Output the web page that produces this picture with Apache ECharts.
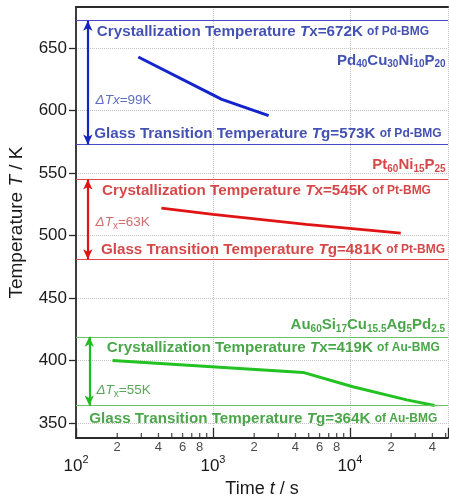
<!DOCTYPE html>
<html><head><meta charset="utf-8">
<script src="https://cdn.jsdelivr.net/npm/echarts@6/dist/echarts.min.js"></script>
<style>html,body{margin:0;padding:0;background:#fff}#c{width:449px;height:502px}</style>
</head><body><div id="c"></div>
<script>
// ---- data ----
const xRange = [100, 52000];
const yRange = [338, 683];
const yTickStep = 50;
const majorTickValues = [100, 1000, 10000];
const minorTickValues = [200,300,400,500,600,700,800,900,2000,3000,4000,5000,6000,7000,8000,9000,20000,30000,40000,50000];
const minorLabelDigits = [2,4,6,8];

const pdTime = [285, 1160, 2550];
const pdTemp = [643, 609, 596];
const ptTime = [420, 1000, 4800, 23500];
const ptTemp = [522, 517, 509, 502];
const auTime = [185, 4550, 10500, 26000, 41500];
const auTemp = [400, 390.5, 379, 368.5, 364];

const pdTx = 672, pdTg = 573, pdDT = 99;
const ptTx = 545, ptTg = 481, ptDT = 63;
const auTx = 419, auTg = 364, auDT = 55;

const arrowTime = 122;

// annotation anchor points [time, temperature]
const pdTxAt = [142, 663.5], pdTgAt = [136, 581.2], pdDTAt = [139, 608.4], pdNameAt = [50000, 640];
const ptTxAt = [155, 535.8], ptTgAt = [152, 489], ptDTAt = [139, 511], ptNameAt = [50000, 556.4];
const auTxAt = [168, 410.2], auTgAt = [125, 353.2], auDTAt = [141, 376.4], auNameAt = [49500, 428.4];

// ---- styling ----
const FONT = '"Liberation Sans", Arial, sans-serif';
const C = {
  pd: {text:'#1426a0', line:'#4a4ac8', curve:'#1424cc', arrow:'#1624c4', dt:'#3a48b0'},
  pt: {text:'#cc1a1a', line:'#e04848', curve:'#e01414', arrow:'#e01414', dt:'#c84848'},
  au: {text:'#1c901c', line:'#66c466', curve:'#22c222', arrow:'#1ebe1e', dt:'#2e902e'}
};
function richFor(col){
  return {
    b:{fontFamily:FONT,fontWeight:'bold',fontSize:15.2,color:col.text,lineHeight:18},
    bi:{fontFamily:FONT,fontWeight:'bold',fontStyle:'italic',fontSize:15.2,color:col.text,lineHeight:18},
    s:{fontFamily:FONT,fontWeight:'bold',fontSize:12,color:col.text,lineHeight:18},
    f:{fontFamily:FONT,fontWeight:'bold',fontSize:15,color:col.text,lineHeight:18},
    fs:{fontFamily:FONT,fontWeight:'bold',fontSize:10,color:col.text,lineHeight:9,verticalAlign:'bottom'},
    d:{fontFamily:FONT,fontSize:13.5,fontStyle:'italic',color:col.dt,lineHeight:18},
    dn:{fontFamily:FONT,fontSize:13.5,color:col.dt,lineHeight:18},
    ds:{fontFamily:FONT,fontSize:10,color:col.dt,lineHeight:9,verticalAlign:'bottom'}
  };
}
function sub(parts){ // parts: [[main, sub], ...]
  return parts.map(p => '{f|'+p[0]+'}' + (p[1] ? '{fs|'+p[1]+'}' : '')).join('');
}
function annotations(key, col, tx, tg, dt, txAt, tgAt, dtAt, nameAt, nameParts, dtSub){
  const tag = key + '-BMG';
  const lab = (text, pos) => ({show:true, position:pos, distance:0, formatter:text, rich:richFor(col)});
  return {
    type:'scatter', symbolSize:0, silent:true, clip:false, z:5,
    data:[
      {value:txAt, label:lab('{b|Crystallization Temperature }{bi|T}{b|x='+tx+'K }{s|of '+tag+'}','right')},
      {value:tgAt, label:lab('{b|Glass Transition Temperature }{bi|T}{b|g='+tg+'K }{s|of '+tag+'}','right')},
      {value:dtAt, label:lab(dtSub ? '{d|ΔT}{ds|x}{dn|='+dt+'K}' : '{d|ΔTx}{dn|='+dt+'K}','right')},
      {value:nameAt, label:lab(sub(nameParts),'left')}
    ]
  };
}
function curve(times, temps, color){
  return {type:'line', data:times.map((t,i)=>[t,temps[i]]), symbol:'none', smooth:false,
    lineStyle:{color:color, width:3}, z:4};
}
function refLines(tx, tg, col){
  return {type:'line', data:[], silent:true, z:3,
    markLine:{symbol:'none', silent:true, label:{show:false},
      lineStyle:{color:col.line, width:1.1, type:'solid'},
      data:[{yAxis:tx},{yAxis:tg}]}};
}
function arrow(tx, tg, col, t){
  return {type:'line', data:[], silent:true, z:4,
    markLine:{symbol:['arrow','arrow'], symbolSize:[7,10], silent:true, label:{show:false},
      lineStyle:{color:col.arrow, width:2.2, type:'solid'},
      data:[[{coord:[t, tg]},{coord:[t, tx]}]]}};
}

const chart = echarts.init(document.getElementById('c'), null, {renderer:'canvas'});
chart.setOption({
  animation:false,
  backgroundColor:'#fff',
  grid:{left:76, right:1, top:7, bottom:64, containLabel:false, outerBoundsMode:'none'},
  xAxis:[{
    type:'log', logBase:10, min:xRange[0], max:xRange[1],
    name:'{n|Time }{i|t}{n| / s}', nameLocation:'middle', nameGap:42,
    nameTextStyle:{rich:{n:{fontFamily:FONT,fontSize:18,color:'#1a1a1a'},i:{fontFamily:FONT,fontSize:18,fontStyle:'italic',color:'#1a1a1a'}}},
    axisLine:{lineStyle:{color:'#2a2a2a', width:1.8}},
    axisTick:{inside:true, length:10, lineStyle:{color:'#2a2a2a', width:1.3}},
    splitLine:{show:true, lineStyle:{color:'#c4c4c4', type:'dotted', width:1}},
    axisLabel:{
      margin:16,
      formatter:function(v){
        const e = Math.round(Math.log10(v));
        if (majorTickValues.some(m => Math.abs(m - v) < 1e-6*m)) return '{b|10}{s|'+e+'}';
        return '';
      },
      rich:{b:{fontFamily:FONT,fontSize:17,color:'#1a1a1a',lineHeight:24},
            s:{fontFamily:FONT,fontSize:11,color:'#1a1a1a',lineHeight:12,verticalAlign:'top'}}
    }
  },{
    type:'log', position:'top', min:xRange[0], max:xRange[1],
    axisLine:{show:true, lineStyle:{color:'#2a2a2a', width:2}},
    axisTick:{show:false}, axisLabel:{show:false}, splitLine:{show:false}
  }],
  yAxis:{
    type:'value', min:yRange[0], max:yRange[1], splitNumber:7,
    name:'{n|Temperature }{i|T}{n| / K}', nameLocation:'middle', nameGap:50, nameRotate:90,
    nameTextStyle:{rich:{n:{fontFamily:FONT,fontSize:19,color:'#1a1a1a'},i:{fontFamily:FONT,fontSize:19,fontStyle:'italic',color:'#1a1a1a'}}},
    axisLine:{show:true, lineStyle:{color:'#2a2a2a', width:1.8}},
    axisTick:{show:true, inside:false, length:7, lineStyle:{color:'#2a2a2a', width:1.3}},
    splitLine:{show:true, lineStyle:{color:'#c4c4c4', type:'dotted', width:1}},
    axisLabel:{fontFamily:FONT, fontSize:17, color:'#1a1a1a', margin:9, showMinLabel:false, showMaxLabel:false,
      formatter:function(v){ return (v % yTickStep === 0) ? String(v) : ''; }}
  },
  series:[
    refLines(pdTx, pdTg, C.pd), refLines(ptTx, ptTg, C.pt), refLines(auTx, auTg, C.au),
    arrow(pdTx, pdTg, C.pd, arrowTime), arrow(ptTx, ptTg, C.pt, arrowTime), arrow(auTx, auTg, C.au, arrowTime+3),
    curve(pdTime, pdTemp, C.pd.curve), curve(ptTime, ptTemp, C.pt.curve), curve(auTime, auTemp, C.au.curve),
    annotations('Pd', C.pd, pdTx, pdTg, pdDT, pdTxAt, pdTgAt, pdDTAt, pdNameAt, [['Pd','40'],['Cu','30'],['Ni','10'],['P','20']], false),
    annotations('Pt', C.pt, ptTx, ptTg, ptDT, ptTxAt, ptTgAt, ptDTAt, ptNameAt, [['Pt','60'],['Ni','15'],['P','25']], true),
    annotations('Au', C.au, auTx, auTg, auDT, auTxAt, auTgAt, auDTAt, auNameAt, [['Au','60'],['Si','17'],['Cu','15.5'],['Ag','5'],['Pd','2.5']], true),
    {
      type:'scatter', silent:true, clip:false, z:6,
      symbol:'rect', symbolSize:[1.3,5], symbolOffset:[0,-2.5],
      itemStyle:{color:'#2a2a2a'},
      label:{show:true, position:'bottom', distance:3, fontFamily:FONT, fontSize:13, color:'#1a1a1a',
        formatter:function(p){
          const v = p.value[0];
          const d = Math.round(v / Math.pow(10, Math.floor(Math.log10(v) + 1e-9)));
          return minorLabelDigits.indexOf(d) >= 0 ? String(d) : '';
        }},
      data:minorTickValues.map(v => [v, yRange[0]])
    }
  ]
});
</script></body></html>
